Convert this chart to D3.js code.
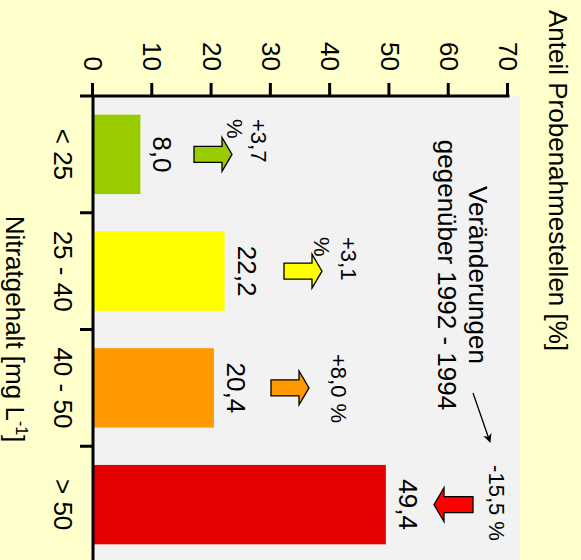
<!DOCTYPE html>
<html><head><meta charset="utf-8">
<script src="https://cdn.jsdelivr.net/npm/d3@7"></script>
<style>
body{margin:0;background:#ffffcc;}
svg{display:block;font-family:"Liberation Sans",Arial,Helvetica,sans-serif;}
</style>
</head><body>
<svg id="chart" width="581" height="560"></svg>
<script>
// ---- data ----
const categories = ["< 25", "25 - 40", "40 - 50", "> 50"];
const values = [8.0, 22.2, 20.4, 49.4];
const valueLabels = ["8,0", "22,2", "20,4", "49,4"];
const changeLabels = [["+3,7", "%"], ["+3,1", "%"], ["+8,0 %"], ["-15,5 %"]];
const changeDirections = ["up", "up", "up", "down"];
const valueTicks = [0, 10, 20, 30, 40, 50, 60, 70];
const valueAxisTitle = "Anteil Probenahmestellen [%]";
const categoryAxisTitle = "Nitratgehalt [mg L";
const noteLines = ["Veränderungen", "gegenüber 1992 - 1994"];

// ---- styles / layout (drawn in unrotated frame, then rotated 90deg) ----
const barColors = ["#99cc00", "#ffff00", "#ff9900", "#e40000"];
const arrowColors = ["#99cc00", "#ffff00", "#ff9900", "#ff0000"];
const W = 581, H = 560;
const layout = {
  arrowBase: [387, 297, 310, 108],
  arrowTip: [349, 259, 272, 147],
  changeX: [119, 237, 388.5, 503],
  changeAnchor: ["start", "start", "middle", "middle"],
  changeBaselines: [[330, 354], [240, 267], [250], [92]]
};

const svg = d3.select("#chart");
const g = svg.append("g").attr("transform", `translate(${W},0) rotate(90)`);

const x = d3.scaleBand().domain(categories).range([96, 563])
  .paddingInner(0.32).paddingOuter(0.16);
const y = d3.scaleLinear().domain([0, 70]).range([488, 73]);

// plot background
g.append("rect").attr("x", 96).attr("y", 61).attr("width", 470).attr("height", 427)
  .attr("fill", "#f2f2f2");

// bars
g.selectAll("rect.bar").data(values).join("rect").attr("class", "bar")
  .attr("x", (d, i) => x(categories[i]))
  .attr("width", x.bandwidth())
  .attr("y", d => y(d))
  .attr("height", d => y(0) - y(d))
  .attr("fill", (d, i) => barColors[i]);

// value labels
g.selectAll("text.vl").data(valueLabels).join("text").attr("class", "vl")
  .attr("x", (d, i) => x(categories[i]) + x.bandwidth() / 2)
  .attr("y", (d, i) => y(values[i]) - 13)
  .attr("text-anchor", "middle").attr("font-size", 26).attr("fill", "#000")
  .text(d => d);

// change arrows
function arrowPath(cx, b, t) {
  const dir = Math.sign(t - b), hy = t - dir * 10, sw = 8, hw = 17;
  return `M${cx - sw},${b}L${cx - sw},${hy}L${cx - hw},${hy}L${cx},${t}L${cx + hw},${hy}L${cx + sw},${hy}L${cx + sw},${b}Z`;
}
g.selectAll("path.chg").data(changeDirections).join("path").attr("class", "chg")
  .attr("d", (d, i) => arrowPath(x(categories[i]) + x.bandwidth() / 2, layout.arrowBase[i], layout.arrowTip[i]))
  .attr("fill", (d, i) => arrowColors[i])
  .attr("stroke", "#000").attr("stroke-width", 1.3).attr("stroke-linejoin", "miter");

// change labels
changeLabels.forEach((lines, i) => {
  lines.forEach((ln, j) => {
    g.append("text").attr("x", layout.changeX[i]).attr("y", layout.changeBaselines[i][j])
      .attr("text-anchor", layout.changeAnchor[i]).attr("font-size", 22).attr("fill", "#000")
      .text(ln);
  });
});

// note text
noteLines.forEach((ln, j) => {
  g.append("text").attr("x", 275).attr("y", 112 + j * 31)
    .attr("text-anchor", "middle").attr("font-size", 26).attr("fill", "#000").text(ln);
});
// pointer arrow
const defs = svg.append("defs");
defs.append("marker").attr("id", "ah").attr("viewBox", "0 0 10 10").attr("refX", 9).attr("refY", 5)
  .attr("markerWidth", 9).attr("markerHeight", 9).attr("markerUnits", "userSpaceOnUse").attr("orient", "auto")
  .append("path").attr("d", "M0,0L10,5L0,10L3,5Z").attr("fill", "#000");
g.append("line").attr("x1", 393).attr("y1", 108).attr("x2", 442).attr("y2", 91)
  .attr("stroke", "#000").attr("stroke-width", 1.3).attr("marker-end", "url(#ah)");

// value axis (left in unrotated frame)
const yAxis = d3.axisLeft(y).tickValues(valueTicks).tickSize(13).tickSizeOuter(0).tickPadding(12)
  .tickFormat(d3.format("d"));
const ya = g.append("g").attr("transform", "translate(96,0)").call(yAxis);
ya.select(".domain").remove();
ya.selectAll(".tick line").attr("stroke", "#000").attr("stroke-width", 3);
ya.selectAll(".tick text").attr("font-size", 26).attr("fill", "#000").attr("font-family", null);
g.append("line").attr("x1", 96).attr("x2", 96).attr("y1", y(70) - 1.5).attr("y2", 501)
  .attr("stroke", "#000").attr("stroke-width", 3);

// category axis (bottom in unrotated frame)
const xAxis = d3.axisBottom(x).tickSize(0).tickPadding(21);
const xa = g.append("g").attr("transform", `translate(0,${y(0)})`).call(xAxis);
xa.select(".domain").remove();
xa.selectAll(".tick text").attr("font-size", 26).attr("fill", "#000").attr("font-family", null);
g.append("line").attr("x1", 96).attr("x2", 566).attr("y1", y(0)).attr("y2", y(0))
  .attr("stroke", "#000").attr("stroke-width", 3);
const bounds = d3.range(categories.length + 1).map(i => x.range()[0] + i * x.step());
g.selectAll("line.ct").data(bounds.slice(1)).join("line").attr("class", "ct")
  .attr("x1", d => d).attr("x2", d => d).attr("y1", y(0)).attr("y2", y(0) + 13)
  .attr("stroke", "#000").attr("stroke-width", 3);

// axis titles
g.append("text").attr("x", 10).attr("y", 32).attr("font-size", 26).attr("fill", "#000")
  .text(valueAxisTitle);
const ct = g.append("text").attr("x", 329).attr("y", 575).attr("text-anchor", "middle")
  .attr("font-size", 26).attr("fill", "#000");
ct.append("tspan").text(categoryAxisTitle);
ct.append("tspan").attr("font-size", 16).attr("dy", -10).text("-1");
ct.append("tspan").attr("dy", 10).text("]");
</script>
</body></html>
